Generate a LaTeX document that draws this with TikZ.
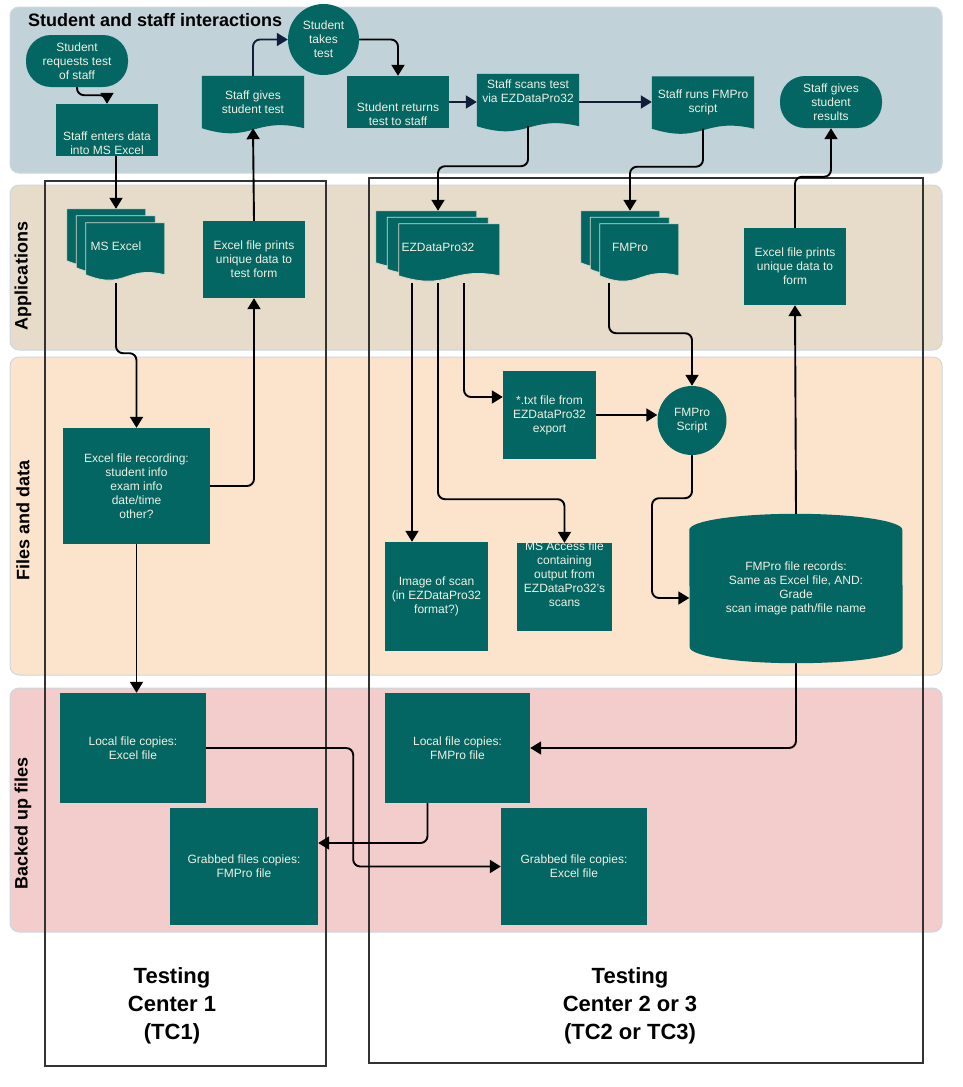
\documentclass[tikz,border=0pt]{standalone}
\usepackage{fontspec}
\setmainfont{Liberation Sans}
\usetikzlibrary{arrows.meta,calc,backgrounds}
\definecolor{nodeteal}{RGB}{3,102,98}
\definecolor{nodetext}{RGB}{240,240,226}
\definecolor{lanestaff}{RGB}{193,210,216}
\definecolor{laneapps}{RGB}{231,220,202}
\definecolor{lanefiles}{RGB}{252,228,204}
\definecolor{lanebackup}{RGB}{243,204,204}
\definecolor{laneedge}{RGB}{204,216,223}
\definecolor{flownavy}{RGB}{16,29,59}
\definecolor{framegray}{RGB}{51,51,51}
\definecolor{sheetedge}{RGB}{222,216,202}

% text shifted inside a box of fixed size
\newcommand\nudge[2]{\raisebox{#1}[\height][\depth]{\begin{tabular}{@{}c@{}}#2\end{tabular}}}
% three stacked document sheets behind a node
\newcommand\sheets[4]{%
  \foreach \s in {0,1,2}
    \filldraw[sheet] ($(#1.north west)+(\s*#3,\s*#4)$) -- ++(#2,0) -- ++(0,52)
      .. controls +(-0.5*#2,-10) and +(0.5*#2,16) .. ++(-#2,0) -- cycle;}
% single document shape behind a node
\newcommand\docfill[1]{%
  \fill[nodeteal] (#1.north west) -- (#1.north east) -- (#1.south east)
    .. controls +(-51,-12) and +(51,16) .. (#1.south west) -- cycle;}

\begin{document}
\begin{tikzpicture}[x=1pt, y=-1pt, font=\fontsize{12}{14}\selectfont,
  box/.style={fill=nodeteal, text=nodetext, align=center, inner sep=1pt},
  docbox/.style={text=nodetext, align=center, inner sep=1pt, minimum width=102pt, minimum height=52pt},
  stack/.style={text=nodetext, inner sep=0pt},
  stadium/.style={box, rounded corners=25pt, minimum width=102pt, minimum height=52pt},
  flow/.style={line width=1.9pt, rounded corners=7pt, -{Triangle[length=11pt,width=13pt]}},
  navyflow/.style={flow, draw=flownavy},
  lane/.style={draw=laneedge, line width=1pt, rounded corners=9pt},
  lanetitle/.style={font=\fontsize{18}{21}\selectfont\bfseries, inner sep=0pt},
  sidetitle/.style={lanetitle, rotate=90},
  centre/.style={font=\fontsize{22}{28}\selectfont\bfseries, align=center},
  tcframe/.style={draw=framegray, line width=1.5pt},
  sheet/.style={fill=nodeteal, draw=sheetedge, line width=0.8pt}]
\useasboundingbox (0,0) rectangle (963,1087);

% lane titles
\node[lanetitle, anchor=west] (staffttl) at (28,20) {Student and staff interactions};
\node[sidetitle] (appttl) at (23,276) {Applications};
\node[sidetitle] (filettl) at (23,520) {Files and data};
\node[sidetitle] (backttl) at (23,823) {Backed up files};
\node[centre] (tcone) at (172,1006) {Testing\\Center 1\\(TC1)};
\node[centre] (tctwo) at (630,1006) {Testing\\Center 2 or 3\\(TC2 or TC3)};

% student and staff interactions
\node[stadium] (req) at (77,61) {Student\\requests test\\of staff};
\node[box, minimum width=102pt, minimum height=52pt] (entry) at (107,130) {\nudge{-15pt}{Staff enters data\\into MS Excel}};
\node[docbox] (gives) at (253,102) {Staff gives\\student test};
\node[circle, fill=nodeteal, text=nodetext, align=center, inner sep=0pt, minimum size=71pt] (takes) at (323.5,39.5) {Student\\takes\\test};
\node[box, minimum width=102pt, minimum height=52pt] (returns) at (398,102) {\nudge{-14pt}{Student returns\\test to staff}};
\node[docbox] (scans) at (528,100) {\nudge{7pt}{Staff scans test\\via EZDataPro32}};
\node[docbox] (runs) at (703,102.5) {Staff runs FMPro\\script};
\node[stadium] (results) at (831,102) {Staff gives\\student\\results};

% applications
\node[stack, minimum width=98pt, minimum height=74pt] (excel) at (116,246) {MS Excel};
\node[box, minimum width=102pt, minimum height=77pt] (printA) at (254,259.5) {Excel file prints\\unique data to\\test form};
\node[stack, minimum width=124pt, minimum height=72pt] (ezdata) at (438,247) {EZDataPro32};
\node[stack, minimum width=98pt, minimum height=72pt] (fmpro) at (630,247) {FMPro};
\node[box, minimum width=102pt, minimum height=77pt] (printB) at (795,266.5) {Excel file prints\\unique data to\\form};

% files and data
\node[box, minimum width=147pt, minimum height=116pt] (rec) at (136.5,486) {Excel file recording:\\student info\\exam info\\date/time\\other?};
\node[box, minimum width=93pt, minimum height=88pt] (txt) at (549.5,415) {*.txt file from\\EZDataPro32\\export};
\node[circle, fill=nodeteal, text=nodetext, align=center, inner sep=0pt, minimum size=69pt] (script) at (692,420.5) {FMPro\\Script};
\node[box, minimum width=103pt, minimum height=109pt] (image) at (436.5,596.5) {Image of scan\\(in EZDataPro32\\format?)};
\node[box, minimum width=95pt, minimum height=88pt] (access) at (564.5,587) {\nudge{11pt}{MS Access file\\containing\\output from\\EZDataPro32's\\scans}};
\node[docbox, minimum width=213pt, minimum height=149pt] (recs) at (796,588.5) {FMPro file records:\\Same as Excel file, AND:\\Grade\\scan image path/file name};

% backed up files
\node[box, minimum width=146pt, minimum height=110pt] (localA) at (133,748) {Local file copies:\\Excel file};
\node[box, minimum width=145pt, minimum height=110pt] (localB) at (457.5,748) {Local file copies:\\FMPro file};
\node[box, minimum width=148pt, minimum height=117pt] (grabA) at (244,866.5) {Grabbed files copies:\\FMPro file};
\node[box, minimum width=146pt, minimum height=117pt] (grabB) at (574,866.5) {Grabbed file copies:\\Excel file};

\begin{scope}[on background layer]
\draw[lane, fill=lanestaff] (10,7) rectangle (942,173);
\draw[lane, fill=laneapps] (10,185) rectangle (942,350);
\draw[lane, fill=lanefiles] (10,357) rectangle (942,675);
\draw[lane, fill=lanebackup] (10,688) rectangle (942,932);
\draw[tcframe] (45,181) rectangle (326,1066);
\draw[tcframe] (369,178) rectangle (923,1063);
\docfill{gives}
\docfill{scans}
\docfill{runs}
\sheets{excel}{79}{9.5}{7}
\sheets{ezdata}{101}{11.5}{6.5}
\sheets{fmpro}{79}{9.5}{6.5}
\fill[nodeteal] ($(recs.north west)+(0,16)$) arc[start angle=180, end angle=360, x radius=106.5, y radius=16]
  -- ($(recs.south east)+(0,-16)$) arc[start angle=0, end angle=180, x radius=106.5, y radius=16] -- cycle;
\end{scope}

% connectors
\draw[flow] (req.south) -- ++(0,8) -| (entry.north);
\draw[flow] (entry.south -| excel.north) -- (excel.north);
\draw[flow] (excel.south) -- ++(0,70) -| (rec.north);
\draw[flow] (rec.east) -| (printA.south);
\draw[flow] (printA.north) -- (gives.south);
\draw[navyflow] (gives.north) |- (takes.west);
\draw[flow] (takes.east) -| (returns.north);
\draw[navyflow] (returns.east) -- (returns.east -| scans.west);
\draw[navyflow] (scans.east |- returns.east) -- (runs.west |- returns.east);
\draw[flow] (scans.south) -- ++(0,40) -| (ezdata.north);
\draw[flow] (runs.south) -- ++(0,38) -| (fmpro.north);
\draw[flow] ([xshift=-26pt]ezdata.south) -- ([xshift=-26pt]ezdata.south |- image.north);
\draw[flow] (ezdata.south) -- ++(0,216) -| (access.north);
\draw[flow] ([xshift=26pt]ezdata.south) |- ([yshift=18pt]txt.west);
\draw[flow] (txt.east) -- (txt.east -| script.west);
\draw[flow] ([xshift=-21pt]fmpro.south) -- ++(0,50) -| (script.north);
\draw[flow] (script.south) -- ++(0,43) -- ++(-40,0) |- ([yshift=-9.5pt]recs.west);
\draw[flow] (recs.north) -- (printB.south);
\draw[flow] (printB.north) -- ++(0,-51) -| (results.south);
\draw[flow] (rec.south) -- (rec.south |- localA.north);
\draw[flow] (recs.south) |- (localB.east);
\draw[flow] (localA.east) -- ++(147,0) |- (grabB.west);
\draw[flow] ([xshift=-30pt]localB.south) |- ([yshift=23.5pt]grabA.east);
\end{tikzpicture}
\end{document}
